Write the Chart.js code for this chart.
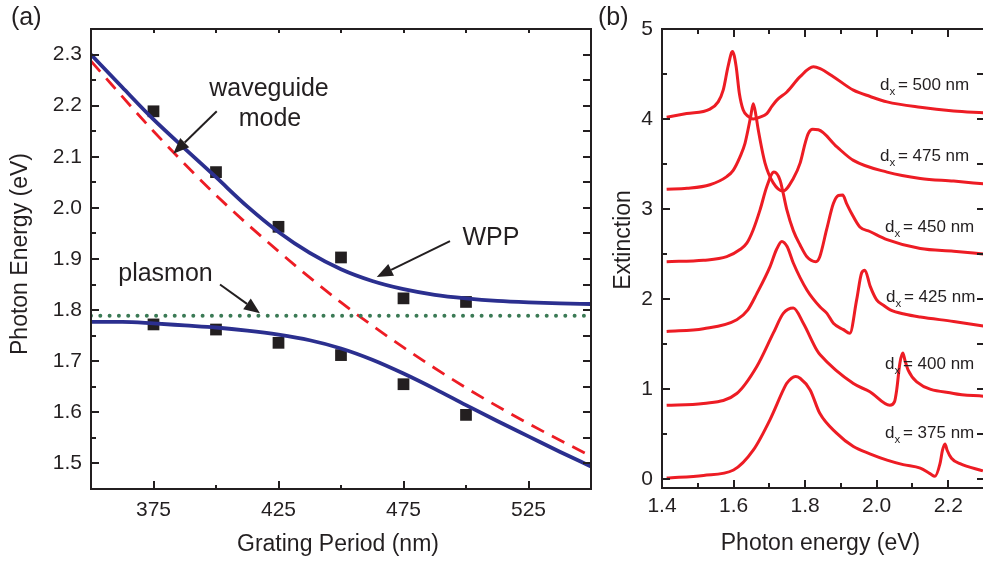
<!DOCTYPE html>
<html><head><meta charset="utf-8">
<script src="https://cdn.jsdelivr.net/npm/chart.js@4/dist/chart.umd.min.js"></script>
<style>
html,body{margin:0;padding:0;background:#fff;overflow:hidden;width:983px;height:563px;position:relative;}
#ca{position:absolute;left:0;top:0;}
#cb{position:absolute;left:595px;top:0;}
</style></head><body>
<canvas id="ca" width="600" height="563"></canvas>
<canvas id="cb" width="405" height="563"></canvas>
<script>
// ---------------- Panel (a) data ----------------
const periodLabels = [375, 425, 475, 525];
const periodMinor = [400, 450, 500];
const periodTop = [375, 400, 425, 450, 475, 500, 525];
const energyTicksA = [1.5, 1.6, 1.7, 1.8, 1.9, 2.0, 2.1, 2.2, 2.3];
const energyMinorA = [1.55, 1.65, 1.75, 1.85, 1.95, 2.05, 2.15, 2.25];

const measPeriods = [375, 400, 425, 450, 475, 500];
const measUpper = [2.189, 2.070, 1.963, 1.903, 1.823, 1.816];
const measLower = [1.772, 1.762, 1.736, 1.712, 1.655, 1.595];

const fitPeriods = [350, 362.5, 375, 387.5, 400, 412.5, 425, 437.5, 450, 462.5, 475, 487.5, 500, 512.5, 525, 537.5, 550];
const fitUpper = [2.300, 2.236, 2.173, 2.116, 2.060, 2.003, 1.953, 1.912, 1.880, 1.857, 1.841, 1.830, 1.823, 1.818, 1.815, 1.813, 1.812];
const fitLower = [1.777, 1.777, 1.774, 1.770, 1.766, 1.760, 1.752, 1.741, 1.725, 1.703, 1.676, 1.646, 1.614, 1.583, 1.553, 1.523, 1.494];

const wgPeriods = [350, 375, 400, 425, 450, 475, 500, 525, 550];
const wgEnergy = [2.287, 2.150, 2.025, 1.915, 1.815, 1.727, 1.648, 1.578, 1.514];

const plPeriods = [350, 550];
const plEnergy = [1.789, 1.789];

// ---------------- Panel (b) data ----------------
const photonTicks = [1.4, 1.6, 1.8, 2.0, 2.2];
const photonMinor = [1.5, 1.7, 1.9, 2.1];
const extTicks = [0, 1, 2, 3, 4, 5];
const extMinor = [0.5, 1.5, 2.5, 3.5, 4.5];
const extRight = [0, 0.5, 1, 1.5, 2, 2.5, 3, 3.5, 4, 4.5, 5];

const e500 = [1.413, 1.469, 1.534, 1.557, 1.571, 1.585, 1.597, 1.607, 1.616, 1.627, 1.641, 1.655, 1.674, 1.693, 1.707, 1.721, 1.749, 1.786, 1.823, 1.842, 1.879, 1.935, 1.982, 2.029, 2.122, 2.215, 2.298];
const v500 = [4.02, 4.06, 4.11, 4.19, 4.32, 4.59, 4.75, 4.59, 4.29, 4.10, 4.03, 4.00, 4.02, 4.06, 4.14, 4.21, 4.30, 4.47, 4.58, 4.56, 4.47, 4.32, 4.25, 4.19, 4.13, 4.09, 4.07];

const e475 = [1.413, 1.470, 1.534, 1.581, 1.599, 1.618, 1.632, 1.648, 1.655, 1.663, 1.669, 1.688, 1.711, 1.738, 1.767, 1.786, 1.800, 1.809, 1.821, 1.837, 1.889, 1.935, 2.029, 2.122, 2.215, 2.298];
const v475 = [3.22, 3.23, 3.27, 3.36, 3.43, 3.58, 3.73, 4.03, 4.17, 4.03, 3.88, 3.51, 3.29, 3.20, 3.34, 3.51, 3.73, 3.84, 3.885, 3.88, 3.69, 3.54, 3.41, 3.34, 3.31, 3.28];

const e450 = [1.413, 1.516, 1.581, 1.618, 1.637, 1.655, 1.674, 1.693, 1.713, 1.730, 1.739, 1.749, 1.767, 1.786, 1.805, 1.830, 1.841, 1.860, 1.879, 1.893, 1.905, 1.916, 1.930, 1.953, 1.981, 2.029, 2.122, 2.215, 2.298];
const v450 = [2.415, 2.43, 2.47, 2.55, 2.62, 2.77, 2.99, 3.25, 3.41, 3.32, 3.17, 2.99, 2.76, 2.60, 2.47, 2.415, 2.47, 2.77, 3.06, 3.15, 3.155, 3.06, 2.95, 2.80, 2.75, 2.66, 2.56, 2.53, 2.50];

const e425 = [1.413, 1.516, 1.609, 1.640, 1.665, 1.702, 1.720, 1.735, 1.750, 1.767, 1.805, 1.842, 1.861, 1.879, 1.907, 1.925, 1.944, 1.958, 1.967, 1.982, 2.000, 2.019, 2.038, 2.080, 2.122, 2.215, 2.298];
const v425 = [1.64, 1.67, 1.77, 1.88, 2.06, 2.36, 2.55, 2.64, 2.58, 2.40, 2.10, 1.91, 1.84, 1.73, 1.66, 1.62, 1.99, 2.29, 2.32, 2.14, 1.99, 1.93, 1.88, 1.83, 1.80, 1.75, 1.70];

const e400 = [1.413, 1.516, 1.609, 1.665, 1.711, 1.739, 1.767, 1.795, 1.833, 1.842, 1.935, 1.981, 2.037, 2.050, 2.056, 2.065, 2.073, 2.079, 2.088, 2.112, 2.215, 2.298];
const v400 = [0.82, 0.84, 0.95, 1.25, 1.62, 1.84, 1.90, 1.73, 1.43, 1.38, 1.06, 0.97, 0.82, 0.86, 0.99, 1.29, 1.40, 1.32, 1.21, 1.08, 0.95, 0.92];

const e375 = [1.413, 1.516, 1.600, 1.655, 1.702, 1.739, 1.748, 1.773, 1.786, 1.814, 1.841, 1.888, 1.935, 1.981, 2.029, 2.074, 2.122, 2.149, 2.163, 2.177, 2.184, 2.191, 2.197, 2.209, 2.233, 2.297];
const v375 = [0.01, 0.04, 0.10, 0.32, 0.66, 0.99, 1.06, 1.14, 1.12, 0.99, 0.73, 0.51, 0.36, 0.28, 0.21, 0.16, 0.12, 0.06, 0.03, 0.17, 0.32, 0.39, 0.32, 0.23, 0.17, 0.09];

const spectra = [[e500, v500], [e475, v475], [e450, v450], [e425, v425], [e400, v400], [e375, v375]];
const specLabels = ['500', '475', '450', '425', '400', '375'];
const specLabelPos = [[2.009, 4.322], [2.009, 3.537], [2.023, 2.748], [2.026, 1.970], [2.023, 1.222], [2.023, 0.452]];

// ---------------- styling ----------------
const FONT = "'Liberation Sans', Arial, Helvetica, sans-serif";
const INK = '#231f20';
const BLUE = '#2b2f8f';
const RED = '#ed1c24';
const GREEN = '#3b7a55';

function pts(xs, ys) { return xs.map((x, i) => ({x: x, y: ys[i]})); }

function drawTicks(chart, specs) {
  const ctx = chart.ctx, a = chart.chartArea;
  ctx.save();
  ctx.strokeStyle = INK; ctx.lineWidth = 2; ctx.lineCap = 'butt';
  ctx.beginPath();
  for (const s of specs) {
    const sc = chart.scales[s.axis];
    for (const v of s.values) {
      const p = Math.round(sc.getPixelForValue(v));
      if (s.side === 'bottom') { ctx.moveTo(p, a.bottom); ctx.lineTo(p, a.bottom - s.len); }
      if (s.side === 'top') { ctx.moveTo(p, a.top); ctx.lineTo(p, a.top + s.len); }
      if (s.side === 'left') { ctx.moveTo(a.left, p); ctx.lineTo(a.left + s.len, p); }
      if (s.side === 'right') { ctx.moveTo(a.right, p); ctx.lineTo(a.right - s.len, p); }
    }
  }
  ctx.stroke();
  ctx.strokeRect(a.left, a.top, a.right - a.left, a.bottom - a.top);
  ctx.restore();
}

function arrow(ctx, x1, y1, x2, y2) {
  const ang = Math.atan2(y2 - y1, x2 - x1);
  const hl = 16, hw = 6.5;
  const bx = x2 - hl * Math.cos(ang), by = y2 - hl * Math.sin(ang);
  ctx.beginPath(); ctx.moveTo(x1, y1); ctx.lineTo(bx, by); ctx.stroke();
  ctx.beginPath();
  ctx.moveTo(x2, y2);
  ctx.lineTo(bx + hw * Math.sin(ang), by - hw * Math.cos(ang));
  ctx.lineTo(bx - hw * Math.sin(ang), by + hw * Math.cos(ang));
  ctx.closePath(); ctx.fill();
}

function vText(ctx, text, x, y, size) {
  ctx.save();
  ctx.translate(x, y); ctx.rotate(-Math.PI / 2);
  ctx.font = size + 'px ' + FONT; ctx.textAlign = 'center'; ctx.textBaseline = 'alphabetic';
  ctx.fillText(text, 0, 0);
  ctx.restore();
}

// annotations of panel (a) in data units
const annTexts = [['waveguide', 421.2, 2.218], ['mode', 421.6, 2.160], ['WPP', 510, 1.928], ['plasmon', 379.8, 1.856]];
const annArrows = [[400.3, 2.189, 382.9, 2.106], [493.6, 1.935, 464.3, 1.865], [401.6, 1.850, 417.6, 1.794]];

const plugA = {
  id: 'decorA',
  afterDatasetsDraw(chart) {
    drawTicks(chart, [
      {axis: 'x', side: 'bottom', values: periodLabels, len: 8},
      {axis: 'x', side: 'bottom', values: periodMinor, len: 4},
      {axis: 'x', side: 'top', values: periodTop, len: 4},
      {axis: 'y', side: 'left', values: energyTicksA, len: 8},
      {axis: 'y', side: 'left', values: energyMinorA, len: 5},
      {axis: 'y', side: 'right', values: energyTicksA.concat(energyMinorA), len: 8}
    ]);
    const ctx = chart.ctx, xs = chart.scales.x, ys = chart.scales.y;
    ctx.save();
    ctx.fillStyle = INK; ctx.strokeStyle = INK; ctx.lineWidth = 2;
    ctx.font = '25px ' + FONT; ctx.textAlign = 'center'; ctx.textBaseline = 'alphabetic';
    for (const t of annTexts) ctx.fillText(t[0], xs.getPixelForValue(t[1]), ys.getPixelForValue(t[2]));
    for (const r of annArrows) arrow(ctx, xs.getPixelForValue(r[0]), ys.getPixelForValue(r[1]), xs.getPixelForValue(r[2]), ys.getPixelForValue(r[3]));
    ctx.textAlign = 'left';
    ctx.fillText('(a)', 11, 25);
    ctx.font = '23px ' + FONT; ctx.textAlign = 'center';
    ctx.fillText('Grating Period (nm)', 338, 551);
    vText(ctx, 'Photon Energy (eV)', 27, 254, 23);
    ctx.restore();
  }
};

const plugB = {
  id: 'decorB',
  afterDatasetsDraw(chart) {
    drawTicks(chart, [
      {axis: 'x', side: 'bottom', values: photonTicks, len: 8},
      {axis: 'x', side: 'bottom', values: photonMinor, len: 5},
      {axis: 'x', side: 'top', values: photonTicks, len: 8},
      {axis: 'x', side: 'top', values: photonMinor, len: 5},
      {axis: 'y', side: 'left', values: extTicks, len: 8},
      {axis: 'y', side: 'left', values: extMinor, len: 5},
      {axis: 'y', side: 'right', values: extRight, len: 7}
    ]);
    const ctx = chart.ctx, xs = chart.scales.x, ys = chart.scales.y;
    ctx.save();
    ctx.fillStyle = INK;
    ctx.textBaseline = 'alphabetic'; ctx.textAlign = 'left';
    specLabels.forEach((lab, i) => {
      const x = xs.getPixelForValue(specLabelPos[i][0]);
      const y = ys.getPixelForValue(specLabelPos[i][1]);
      ctx.font = '17px ' + FONT;
      ctx.fillText('d', x, y);
      ctx.font = '11.5px ' + FONT;
      ctx.fillText('x', x + 9.5, y + 5);
      ctx.font = '17px ' + FONT;
      ctx.fillText('= ' + lab + ' nm', x + 18, y);
    });
    ctx.font = '25px ' + FONT;
    ctx.fillText('(b)', 3, 25);
    ctx.font = '23px ' + FONT; ctx.textAlign = 'center';
    ctx.fillText('Photon energy (eV)', 820.5 - 595, 550);
    vText(ctx, 'Extinction', 630 - 595, 240, 23);
    ctx.restore();
  }
};

Chart.defaults.font.family = FONT;

new Chart(document.getElementById('ca'), {
  type: 'scatter',
  data: {
    datasets: [
      {data: pts(plPeriods, plEnergy), showLine: true, borderColor: GREEN, borderWidth: 4, borderDash: [0, 9.3], borderCapStyle: 'round', pointRadius: 0},
      {data: pts(wgPeriods, wgEnergy), showLine: true, borderColor: RED, borderWidth: 2.8, borderDash: [14, 9], cubicInterpolationMode: 'monotone', pointRadius: 0},
      {data: pts(fitPeriods, fitUpper), showLine: true, borderColor: BLUE, borderWidth: 3.8, cubicInterpolationMode: 'monotone', pointRadius: 0},
      {data: pts(fitPeriods, fitLower), showLine: true, borderColor: BLUE, borderWidth: 3.8, cubicInterpolationMode: 'monotone', pointRadius: 0},
      {data: pts(measPeriods, measUpper), showLine: false, pointStyle: 'rect', pointRadius: 8.3, backgroundColor: INK, borderColor: INK, borderWidth: 0},
      {data: pts(measPeriods, measLower), showLine: false, pointStyle: 'rect', pointRadius: 8.3, backgroundColor: INK, borderColor: INK, borderWidth: 0}
    ]
  },
  options: {
    responsive: false, animation: false, events: [],
    layout: {padding: {left: 0, right: 9, top: 29, bottom: 0}},
    plugins: {legend: {display: false}, tooltip: {enabled: false}},
    scales: {
      x: {type: 'linear', min: 350, max: 550,
          grid: {display: false, drawTicks: false}, border: {display: false},
          afterBuildTicks: s => { s.ticks = periodLabels.map(v => ({value: v})); },
          afterFit: s => { s.height = 74; },
          ticks: {padding: 9, color: INK, font: {family: FONT, size: 21}, maxRotation: 0, autoSkip: false, callback: v => String(v)}},
      y: {type: 'linear', min: 1.45, max: 2.35,
          grid: {display: false, drawTicks: false}, border: {display: false},
          afterBuildTicks: s => { s.ticks = energyTicksA.map(v => ({value: v})); },
          afterFit: s => { s.width = 91; },
          ticks: {padding: 9, color: INK, font: {family: FONT, size: 21}, autoSkip: false, callback: v => Number(v).toFixed(1)}}
    }
  },
  plugins: [plugA]
});

new Chart(document.getElementById('cb'), {
  type: 'scatter',
  data: {
    datasets: spectra.map(s => ({data: pts(s[0], s[1]), showLine: true, borderColor: RED, borderWidth: 3, cubicInterpolationMode: 'monotone', pointRadius: 0}))
  },
  options: {
    responsive: false, animation: false, events: [],
    layout: {padding: {left: 0, right: 16, top: 29, bottom: 0}},
    plugins: {legend: {display: false}, tooltip: {enabled: false}},
    scales: {
      x: {type: 'linear', min: 1.4, max: 2.3,
          grid: {display: false, drawTicks: false}, border: {display: false},
          afterBuildTicks: s => { s.ticks = photonTicks.map(v => ({value: v})); },
          afterFit: s => { s.height = 75; },
          ticks: {padding: 6, color: INK, font: {family: FONT, size: 21}, maxRotation: 0, autoSkip: false, callback: v => Number(v).toFixed(1)}},
      y: {type: 'linear', min: -0.1, max: 5,
          grid: {display: false, drawTicks: false}, border: {display: false},
          afterBuildTicks: s => { s.ticks = extTicks.map(v => ({value: v})); },
          afterFit: s => { s.width = 67; },
          ticks: {padding: 9, color: INK, font: {family: FONT, size: 21}, autoSkip: false, callback: v => String(v)}}
    }
  },
  plugins: [plugB]
});
</script>
</body></html>
